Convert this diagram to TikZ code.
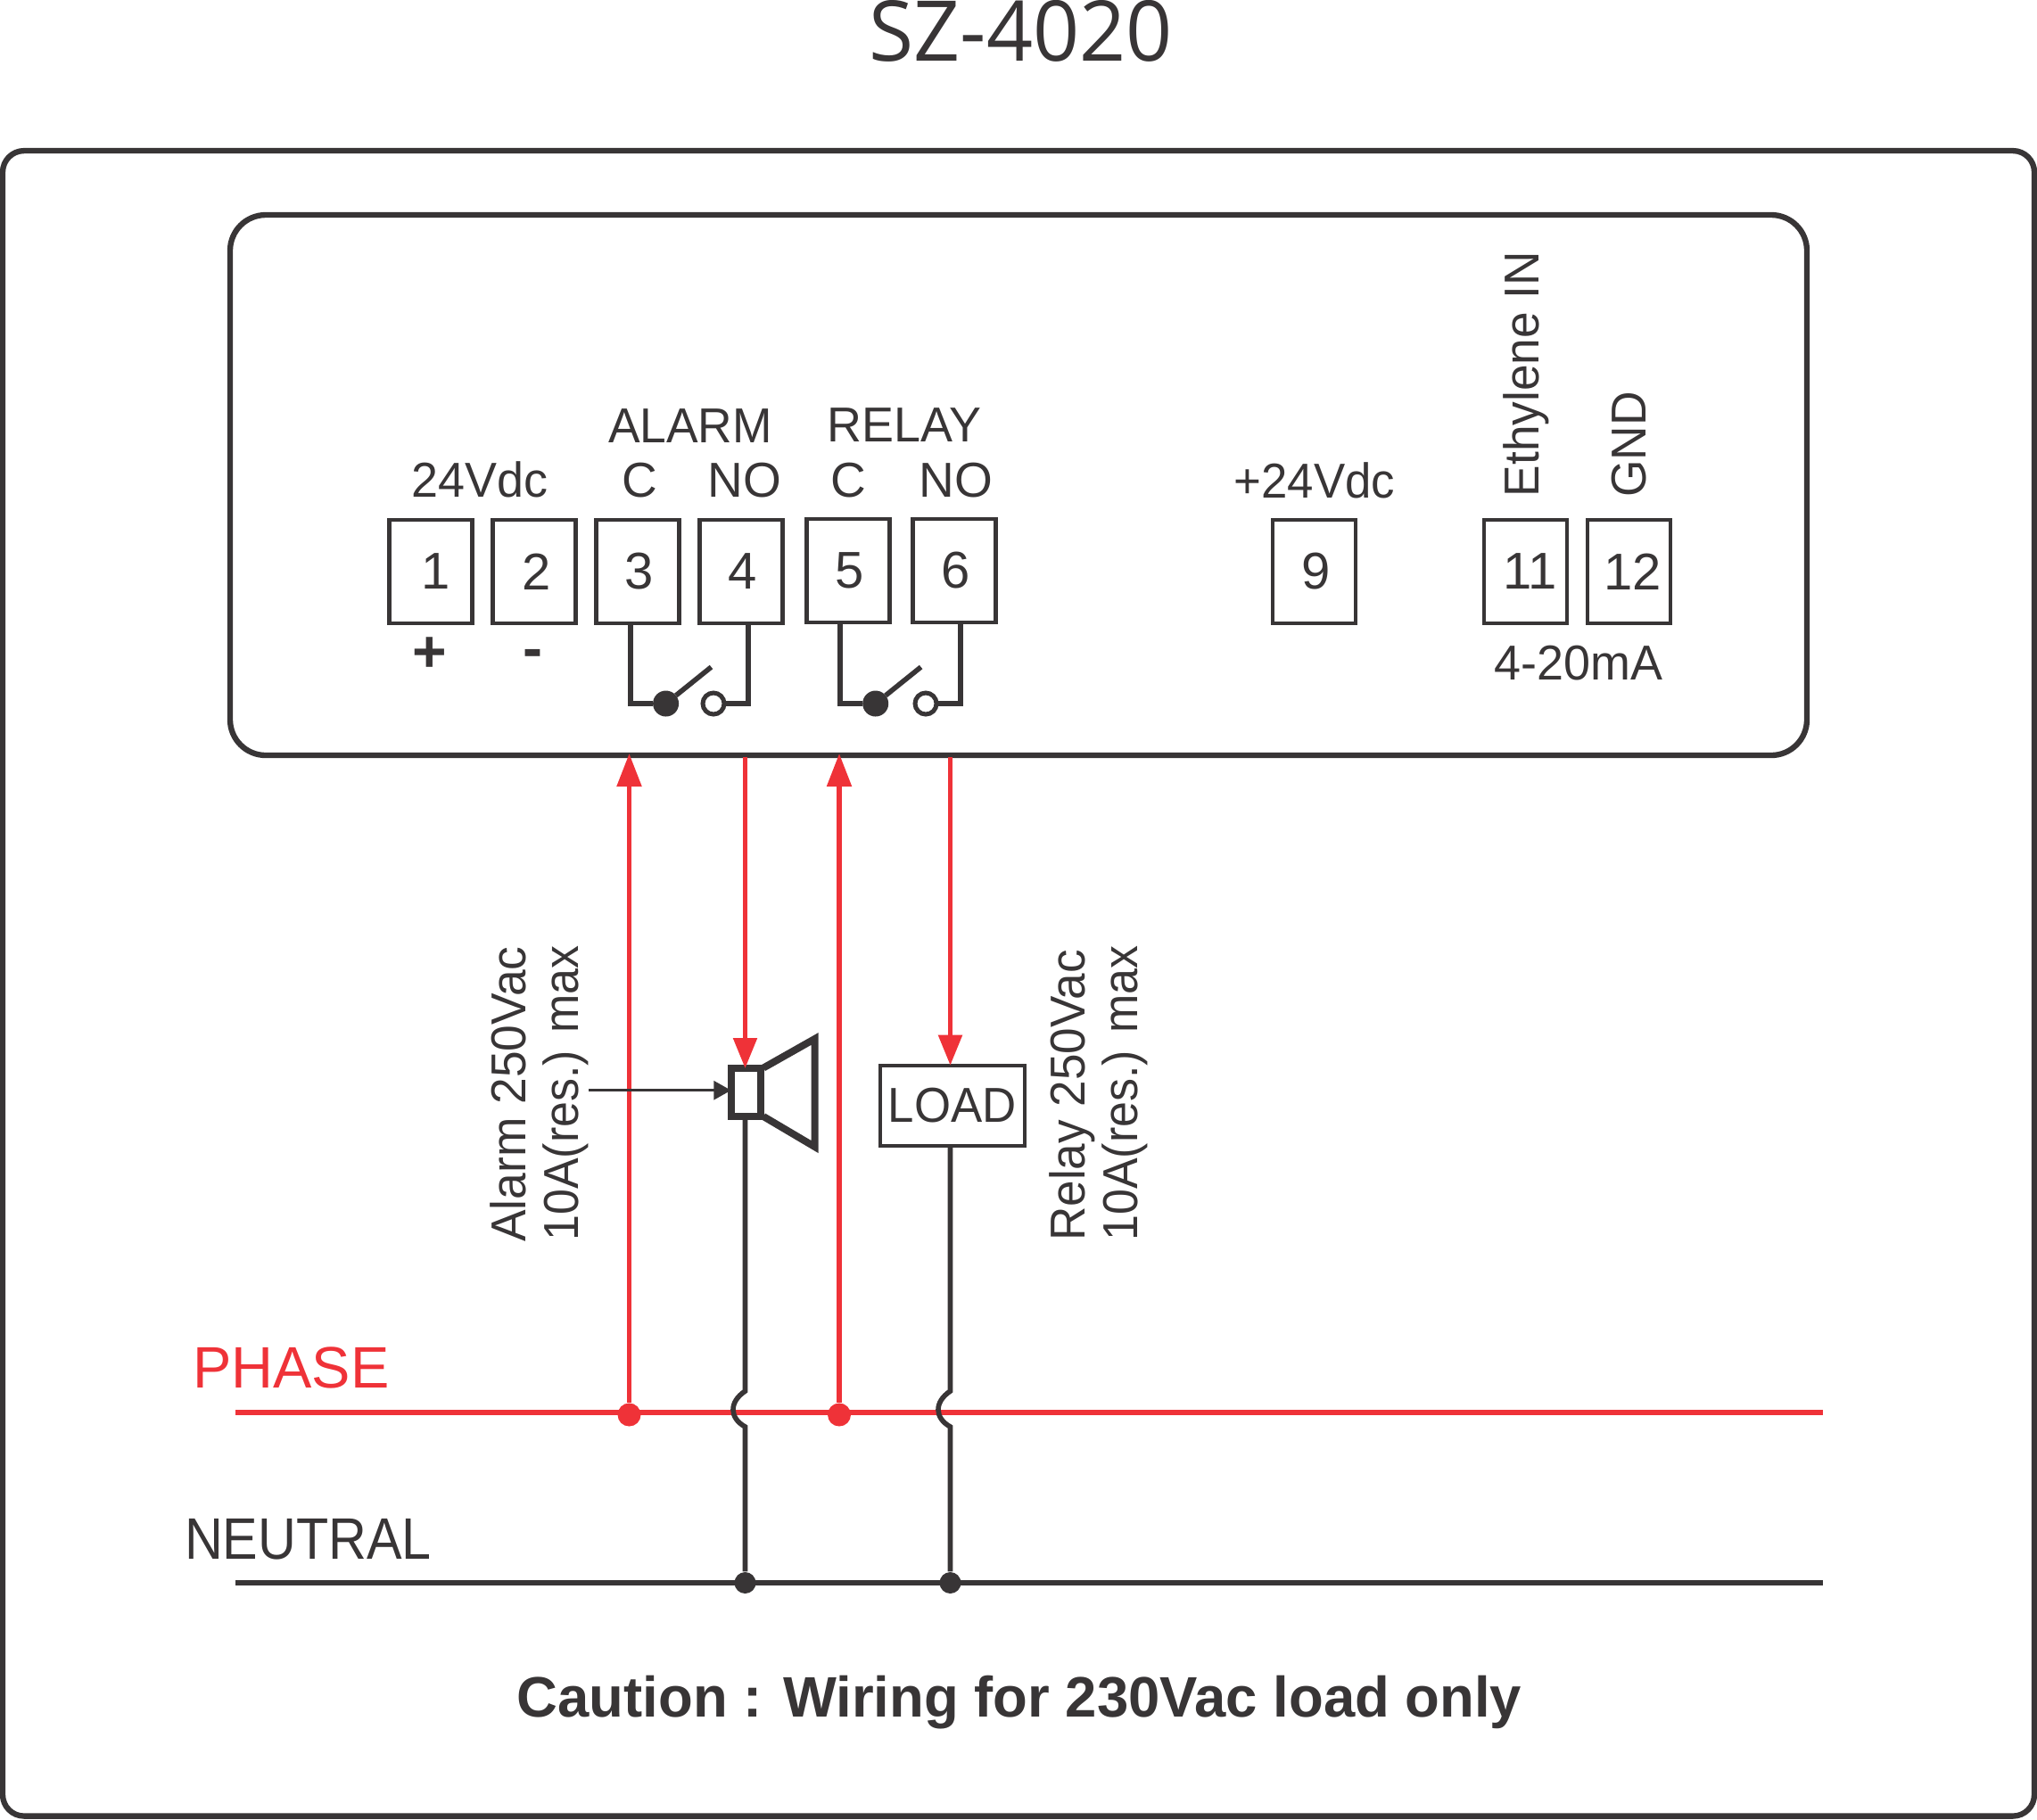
\documentclass[tikz,border=0pt]{standalone}
\usepackage{fontspec}
\usepackage{graphicx}
\setmainfont{Liberation Sans}
\newfontfamily\titlefont{Open Sans}
\usetikzlibrary{arrows.meta}

\definecolor{ink}{HTML}{383536}
\definecolor{hotred}{HTML}{EF3238}
\newcommand{\nar}[2]{\scalebox{#1}[1]{#2}}

\tikzset{
  frame/.style={draw=ink,line width=1.8pt,inner sep=0pt,outer sep=0pt},
  term/.style={draw=ink,line width=1.15pt,minimum width=.93cm,minimum height=1.16cm,inner sep=0pt,outer sep=0pt,text=ink,font=\fontsize{16.5}{18}\selectfont},
  lbl/.style={inner sep=0pt,anchor=base,text=ink,font=\fontsize{15.65}{18}\selectfont},
  vlbl/.style={lbl,rotate=90},
  wire/.style={draw=ink,line width=1.6pt},
  hot/.style={color=hotred,draw=hotred,line width=1.5pt},
  bus/.style={line width=1.8pt},
  upin/.style={-{Triangle[length=.37cm,width=.27cm]},shorten >=-.57pt},
  downin/.style={-{Triangle[length=.34cm,width=.26cm]},shorten <=.5pt},
  closed/.style={circle,fill=ink,minimum size=.29cm,inner sep=0pt,outer sep=0pt},
  open/.style={circle,draw=ink,fill=white,line width=1.42pt,minimum size=.24cm,inner sep=0pt,outer sep=0pt},
  hotdot/.style={circle,fill=hotred,minimum size=.26cm,inner sep=0pt},
  inkdot/.style={circle,fill=ink,minimum size=.24cm,inner sep=0pt}
}

\begin{document}
\begin{tikzpicture}[node distance=1.16cm]
  \useasboundingbox (0,0) rectangle (22.84,-20.40);

  \node[lbl,text=ink,font=\fontsize{26.75}{30}\titlefont] (title) at (11.445,-.687) {\nar{.97}{SZ-4020}};
  \node[frame,minimum width=22.78cm,minimum height=18.675cm,rounded corners=.24cm] (case) at (11.42,-11.028) {};
  \node[frame,minimum width=17.68cm,minimum height=6.06cm,rounded corners=.4cm] (panel) at (11.42,-5.44) {};

  % terminals
  \node[term] (t1) at (4.83,-6.41) {\kern.12cm 1};
  \node[term] (t2) [right of=t1] {\kern.06cm 2};
  \node[term] (t3) [right of=t2] {\kern.03cm 3};
  \node[term] (t4) [right of=t3] {\kern.03cm 4};
  \node[term] (t5) at (9.51,-6.40) {\kern.03cm 5};
  \node[term] (t6) at (10.70,-6.40) {\kern.03cm 6};
  \node[term] (t9) at (14.73,-6.41) {\kern.06cm 9};
  \node[term] (t11) at (17.10,-6.41) {\kern.12cm 11};
  \node[term] (t12) [right of=t11] {\kern.09cm 12};

  \node[lbl] (l24) at (5.38,-5.57) {\nar{.98}{24Vdc}};
  \node[lbl] (lalarm) at (7.74,-4.96) {\nar{.97}{ALARM}};
  \node[lbl] (lc3) at (7.17,-5.57) {C};
  \node[lbl] (lno4) at (8.35,-5.57) {NO};
  \node[lbl] (lrelay) at (10.14,-4.95) {\nar{.98}{RELAY}};
  \node[lbl] (lc5) at (9.51,-5.57) {C};
  \node[lbl] (lno6) at (10.72,-5.57) {NO};
  \node[vlbl] (leth) at (17.25,-4.195) {\nar{.968}{Ethylene IN}};
  \node[vlbl] (lgnd) at (18.45,-4.985) {\nar{.97}{GND}};
  \node[lbl] (l9) at (14.74,-5.58) {\nar{.96}{+24Vdc}};
  \node[lbl] (lma) at (17.70,-7.62) {\nar{.98}{4-20mA}};
  \node[inner sep=0pt,text=ink,font=\fontsize{18.8}{20}\selectfont\bfseries] (lplus) at (4.82,-7.345) {+};
  \node[inner sep=0pt,text=ink,font=\fontsize{18.8}{20}\selectfont\bfseries] (lminus) at (5.97,-7.385) {-};

  % relay contacts
  \node[closed] (c3) at (7.466,-7.89) {};
  \node[open]   (o4) at (8.00,-7.89) {};
  \node[closed] (c5) at (9.817,-7.89) {};
  \node[open]   (o6) at (10.38,-7.89) {};
  \coordinate (b3) at (7.975,-7.48);
  \coordinate (b5) at (10.326,-7.48);

  \draw[wire] ([xshift=-.08cm]t3.south) |- (c3);
  \draw[wire] (o4) -| ([xshift=.08cm]t4.south);
  \draw[wire] (c3) -- (b3);
  \draw[wire] ([xshift=-.09cm]t5.south) |- (c5);
  \draw[wire] (o6) -| ([xshift=.07cm]t6.south);
  \draw[wire] (c5) -- (b5);

  % mains
  \coordinate (phL) at (2.64,-15.84);
  \coordinate (phR) at (20.44,-15.84);
  \coordinate (ntL) at (2.64,-17.75);
  \coordinate (ntR) at (20.44,-17.75);
  \node[hotdot] (ph3) at (7.055,-15.865) {};
  \node[hotdot] (ph5) at (9.41,-15.865) {};
  \node[inkdot] (nt3) at (8.355,-17.75) {};
  \node[inkdot] (nt5) at (10.655,-17.75) {};

  \node[lbl,text=hotred,font=\fontsize{18.66}{20}\selectfont] (lphase) at (3.265,-15.565) {\nar{.99}{PHASE}};
  \node[lbl,font=\fontsize{18.66}{20}\selectfont] (lneutral) at (3.455,-17.48) {\nar{.904}{NEUTRAL}};

  % loads
  \node[draw=ink,line width=2.28pt,fill=white,minimum width=.335cm,minimum height=.54cm,inner sep=0pt,outer sep=0pt] (spk) at (8.365,-12.25) {};
  \node[term,minimum width=1.62cm,minimum height=.90cm,font=\fontsize{15.65}{18}\selectfont] (load) at (10.676,-12.397) {\nar{.96}{LOAD}};
  \draw[draw=ink,line width=2.28pt] (8.56,-11.975) -- (9.135,-11.65) -- (9.135,-12.86) -- (8.56,-12.52);

  \draw[hot,bus] (phL) -- (phR);
  \draw[ink,bus] (ntL) -- (ntR);
  \path[hot] (ph3) edge[upin] (ph3 |- panel.south)
             (ph5) edge[upin] (ph5 |- panel.south)
             (nt3 |- panel.south) edge[downin] (nt3 |- spk.north)
             (nt5 |- panel.south) edge[downin] (nt5 |- load.north);

  \coordinate (jp3) at (8.355,-15.60);
  \coordinate (jq3) at (8.355,-16.00);
  \coordinate (jp5) at (10.655,-15.60);
  \coordinate (jq5) at (10.655,-16.00);
  \draw[wire] (nt3 |- spk.south) -- (jp3) .. controls +(-.18,-.12) and +(-.18,.10) .. (jq3) -- (nt3);
  \draw[wire] (nt5 |- load.south) -- (jp5) .. controls +(-.18,-.12) and +(-.18,.10) .. (jq5) -- (nt5);

  \coordinate (alm) at (6.60,-12.227);
  \draw[ink,line width=.85pt,-{Triangle[length=.195cm,width=.21cm]}] (alm) -- (alm -| spk.west);

  \node[vlbl] (lal1) at (5.89,-12.27) {\nar{.97}{Alarm 250Vac}};
  \node[vlbl] (lal2) at (6.486,-12.26) {\nar{.945}{10A(res.) max}};
  \node[vlbl] (lre1) at (12.165,-12.285) {\nar{.965}{Relay 250Vac}};
  \node[vlbl] (lre2) at (12.75,-12.26) {\nar{.945}{10A(res.) max}};

  \node[lbl,font=\fontsize{18.2}{20}\selectfont\bfseries] (caution) at (11.43,-19.25) {\nar{.992}{Caution : Wiring for 230Vac load only}};
\end{tikzpicture}
\end{document}
